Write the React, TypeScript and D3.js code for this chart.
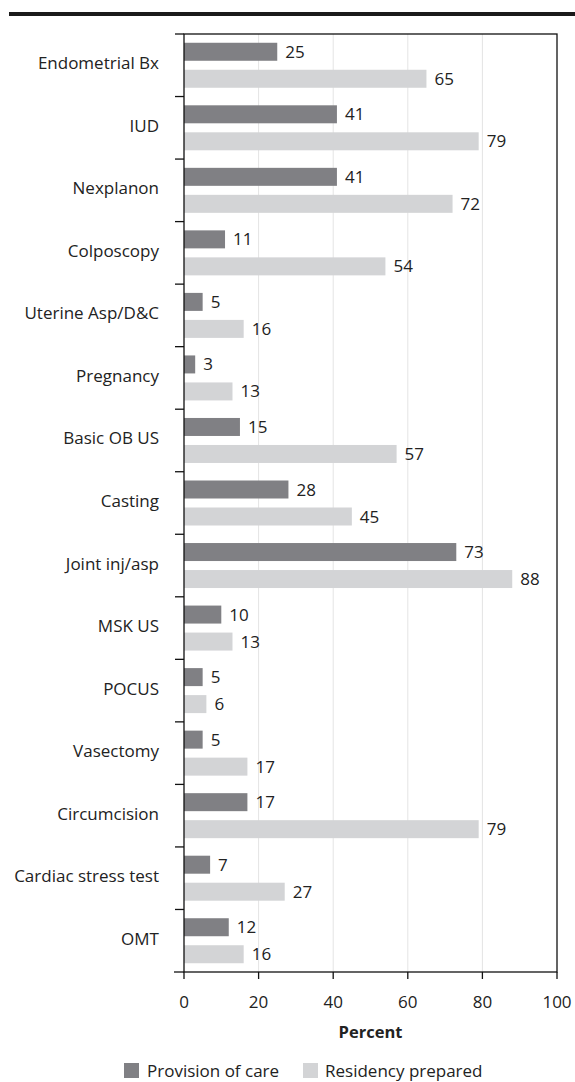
import React from 'react';
import * as d3 from 'd3';

// procedures, top to bottom
const categories = [
  'Endometrial Bx', 'IUD', 'Nexplanon', 'Colposcopy', 'Uterine Asp/D&C',
  'Pregnancy', 'Basic OB US', 'Casting', 'Joint inj/asp', 'MSK US',
  'POCUS', 'Vasectomy', 'Circumcision', 'Cardiac stress test', 'OMT',
];
const provisionOfCare = [25, 41, 41, 11, 5, 3, 15, 28, 73, 10, 5, 5, 17, 7, 12];
const residencyPrepared = [65, 79, 72, 54, 16, 13, 57, 45, 88, 13, 6, 17, 79, 27, 16];
const xTicks = [0, 20, 40, 60, 80, 100];
const seriesNames = ['Provision of care', 'Residency prepared'];

const DARK = '#808084';
const LIGHT = '#d3d4d6';
const FONT = "'Open Sans', 'Noto Sans', sans-serif";
const FS = 17;

export default function App() {
  const width = 575;
  const height = 1082;
  const left = 184, right = 557, top = 34, bottom = 972;

  const x = d3.scaleLinear().domain([0, 100]).range([left, right]);
  const y = d3.scaleBand().domain(categories).range([top, bottom]);
  const barH = 18;
  const off = 13.5;
  const bw = y.bandwidth();

  return (
    <svg width={width} height={height} style={{ position: 'absolute', left: 0, top: 0, background: 'white' }}
      fontFamily={FONT}>
      {/* heavy rule at top */}
      <rect x={9} y={12} width={width - 9} height={4} fill="#1a1a1a" />

      {/* grid */}
      {xTicks.slice(1, -1).map(t => (
        <line key={'g' + t} x1={x(t)} x2={x(t)} y1={top} y2={bottom} stroke="#e4e4e4" strokeWidth={1} />
      ))}

      {/* bars */}
      {categories.map((c, i) => {
        const cy = (y(c) as number) + bw / 2;
        return (
          <g key={c}>
            <rect x={x(0)} y={cy - off - barH / 2} width={x(provisionOfCare[i]) - x(0)} height={barH} fill={DARK} />
            <text x={x(provisionOfCare[i]) + 8} y={cy - off + 6} fontSize={FS} fill="#222">{provisionOfCare[i]}</text>
            <rect x={x(0)} y={cy + off - barH / 2} width={x(residencyPrepared[i]) - x(0)} height={barH} fill={LIGHT} />
            <text x={x(residencyPrepared[i]) + 8} y={cy + off + 6} fontSize={FS} fill="#222">{residencyPrepared[i]}</text>
            <text x={159} y={cy + 4} fontSize={FS} textAnchor="end" fill="#222">{c}</text>
          </g>
        );
      })}

      {/* category ticks */}
      {categories.map(c => (
        <line key={'t' + c} x1={175} x2={left} y1={y(c) as number} y2={y(c) as number} stroke="#111" strokeWidth={1.3} />
      ))}
      <line x1={174} x2={left} y1={bottom} y2={bottom} stroke="#111" strokeWidth={1.3} />

      {/* frame */}
      <rect x={left} y={top} width={right - left} height={bottom - top} fill="none" stroke="#111" strokeWidth={1.3} />

      {/* x axis ticks */}
      {xTicks.map(t => (
        <g key={'x' + t}>
          <line x1={x(t)} x2={x(t)} y1={bottom} y2={bottom + 7} stroke="#111" strokeWidth={1.3} />
          <text x={x(t)} y={bottom + 36} fontSize={FS} textAnchor="middle" fill="#222">{t}</text>
        </g>
      ))}
      <text x={(left + right) / 2} y={bottom + 66} fontSize={16.5} fontWeight="bold" textAnchor="middle" fill="#222">Percent</text>

      {/* legend */}
      <rect x={124} y={1063} width={15} height={15} fill={DARK} />
      <text x={147} y={1077} fontSize={FS} fill="#222">{seriesNames[0]}</text>
      <rect x={303} y={1063} width={15} height={15} fill={LIGHT} />
      <text x={325} y={1077} fontSize={FS} fill="#222">{seriesNames[1]}</text>
    </svg>
  );
}
